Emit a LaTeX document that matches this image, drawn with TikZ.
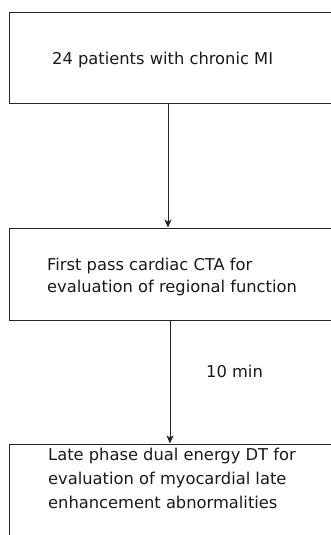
\documentclass[tikz,border=0pt]{standalone}
\usepackage{fontspec}
\setmainfont{DejaVu Sans}
\usetikzlibrary{arrows.meta}
\begin{document}
\begin{tikzpicture}[x=1pt,y=1pt,
  box/.style={draw=black!85,line width=1pt,rectangle,inner sep=0pt},
  lbl/.style={anchor=base west,inner sep=0pt,font=\fontsize{16.3}{23}\selectfont,text=black!90},
  conn/.style={draw=black!85,line width=1pt,-{Stealth[length=8pt,width=7pt,inset=2pt]}}]
\useasboundingbox (0,0) rectangle (331,-535);
\begin{scope}
\clip (0,0) rectangle (331,-535);
\node[box,minimum width=336pt,minimum height=90pt] (box1) at (177,-58) {};
\node[box,minimum width=336pt,minimum height=92pt] (box2) at (177,-274) {};
\node[box,minimum width=336pt,minimum height=130pt] (box3) at (177,-509) {};
\end{scope}
\node[lbl] (t1) at (52,-65) {24 patients with chronic MI};
\node[lbl] (t2a) at (47,-270) {First pass cardiac CTA for};
\node[lbl] (t2b) at (47,-292) {evaluation of regional function};
\node[lbl] (t3a) at (48,-460) {Late phase dual energy DT for};
\node[lbl] (t3b) at (48,-484) {evaluation of myocardial late};
\node[lbl] (t3c) at (48,-508) {enhancement abnormalities};
\node[lbl] (tm) at (206,-377) {10 min};
\coordinate (x1) at (168,0);
\coordinate (x2) at (170,0);
\draw[conn] (box1.south -| x1) -- (box2.north -| x1);
\draw[conn] (box2.south -| x2) -- (box3.north -| x2);
\end{tikzpicture}
\end{document}
